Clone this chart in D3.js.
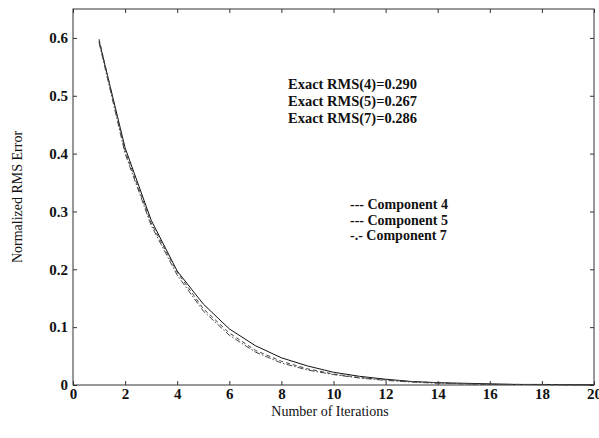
<!DOCTYPE html>
<html>
<head>
<meta charset="utf-8">
<script src="https://cdn.jsdelivr.net/npm/d3@7"></script>
<style>
  body { margin: 0; background: #fff; }
  svg text { font-family: "Liberation Serif", "DejaVu Serif", serif; fill: #111; }
</style>
</head>
<body>
<svg id="canvas" width="599" height="438"></svg>
<script>
// iterations 1..20
let iterations = d3.range(1, 21);
let comp4 = [0.595, 0.41, 0.285, 0.197, 0.14, 0.097, 0.068, 0.047, 0.033, 0.022,
             0.015, 0.010, 0.006, 0.004, 0.003, 0.002, 0.001, 0.001, 0.0005, 0.0003];
let comp5 = [0.598, 0.405, 0.28, 0.195, 0.132, 0.09, 0.06, 0.041, 0.028, 0.019,
             0.013, 0.009, 0.006, 0.004, 0.002, 0.001, 0.001, 0.0005, 0.0003, 0.0002];
let comp7 = [0.592, 0.40, 0.276, 0.19, 0.128, 0.086, 0.057, 0.038, 0.026, 0.018,
             0.012, 0.008, 0.005, 0.003, 0.002, 0.001, 0.001, 0.0005, 0.0003, 0.0002];
let xTicks = [0, 2, 4, 6, 8, 10, 12, 14, 16, 18, 20];
let yTicks = [0, 0.1, 0.2, 0.3, 0.4, 0.5, 0.6];
let exactLines = ["Exact RMS(4)=0.290", "Exact RMS(5)=0.267", "Exact RMS(7)=0.286"];
let legendLines = ["--- Component 4", "--- Component 5", "-.- Component 7"];

let canvas = d3.select("#canvas");
let plotLeft = 73, plotRight = 594, plotTop = 9, plotBottom = 385;

let xScale = d3.scaleLinear().domain([0, 20]).range([plotLeft, plotRight]);
let yScale = d3.scaleLinear().domain([0, 0.65]).range([plotBottom, plotTop]);

// frame
canvas.append("rect")
  .attr("x", plotLeft).attr("y", plotTop)
  .attr("width", plotRight - plotLeft).attr("height", plotBottom - plotTop)
  .attr("fill", "none").attr("stroke", "#333").attr("stroke-width", 1);

let styleAxis = (g) => {
  g.select(".domain").remove();
  g.selectAll("line").attr("stroke", "#333");
  g.selectAll("text")
    .style("font-family", "Liberation Serif, serif")
    .style("font-size", "15px")
    .style("font-weight", "bold")
    .attr("fill", "#111");
};

canvas.append("g")
  .attr("transform", "translate(0," + plotBottom + ")")
  .call(d3.axisBottom(xScale).tickValues(xTicks).tickFormat(d3.format("d"))
    .tickSizeInner(-4).tickSizeOuter(0).tickPadding(3))
  .call(styleAxis);

canvas.append("g")
  .attr("transform", "translate(0," + plotTop + ")")
  .call(d3.axisTop(xScale).tickValues(xTicks).tickFormat("")
    .tickSizeInner(-4).tickSizeOuter(0))
  .call(styleAxis);

canvas.append("g")
  .attr("transform", "translate(" + plotLeft + ",0)")
  .call(d3.axisLeft(yScale).tickValues(yTicks)
    .tickFormat((d) => d === 0 ? "0" : d3.format(".1f")(d))
    .tickSizeInner(-4).tickSizeOuter(0).tickPadding(5))
  .call(styleAxis);

canvas.append("g")
  .attr("transform", "translate(" + plotRight + ",0)")
  .call(d3.axisRight(yScale).tickValues(yTicks).tickFormat("")
    .tickSizeInner(-4).tickSizeOuter(0))
  .call(styleAxis);

// lines
let series = [
  { values: comp4, dash: null, color: "#111", width: 1 },
  { values: comp5, dash: "4,3", color: "#444", width: 1 },
  { values: comp7, dash: "6,2,1.5,2", color: "#444", width: 1 }
];

let line = d3.line()
  .x((d, i) => xScale(iterations[i]))
  .y((d) => yScale(d));

series.forEach((s) => {
  canvas.append("path")
    .datum(s.values)
    .attr("d", line)
    .attr("fill", "none")
    .attr("stroke", s.color)
    .attr("stroke-width", s.width)
    .attr("stroke-dasharray", s.dash);
});

// annotation
canvas.append("g").selectAll("text")
  .data(exactLines)
  .enter()
  .append("text")
  .attr("x", 288)
  .attr("y", (d, i) => 89 + i * 17)
  .style("font-size", "14.5px")
  .style("font-weight", "bold")
  .text((d) => d);

// legend
canvas.append("g").selectAll("text")
  .data(legendLines)
  .enter()
  .append("text")
  .attr("x", 350)
  .attr("y", (d, i) => 209 + i * 15.5)
  .style("font-size", "14px")
  .style("font-weight", "bold")
  .text((d) => d);

// axis labels
canvas.append("text")
  .attr("x", 330).attr("y", 416)
  .attr("text-anchor", "middle")
  .style("font-size", "14px")
  .text("Number of Iterations");

canvas.append("text")
  .attr("transform", "translate(22,197) rotate(-90)")
  .attr("text-anchor", "middle")
  .style("font-size", "14px")
  .text("Normalized RMS Error");
</script>
</body>
</html>
